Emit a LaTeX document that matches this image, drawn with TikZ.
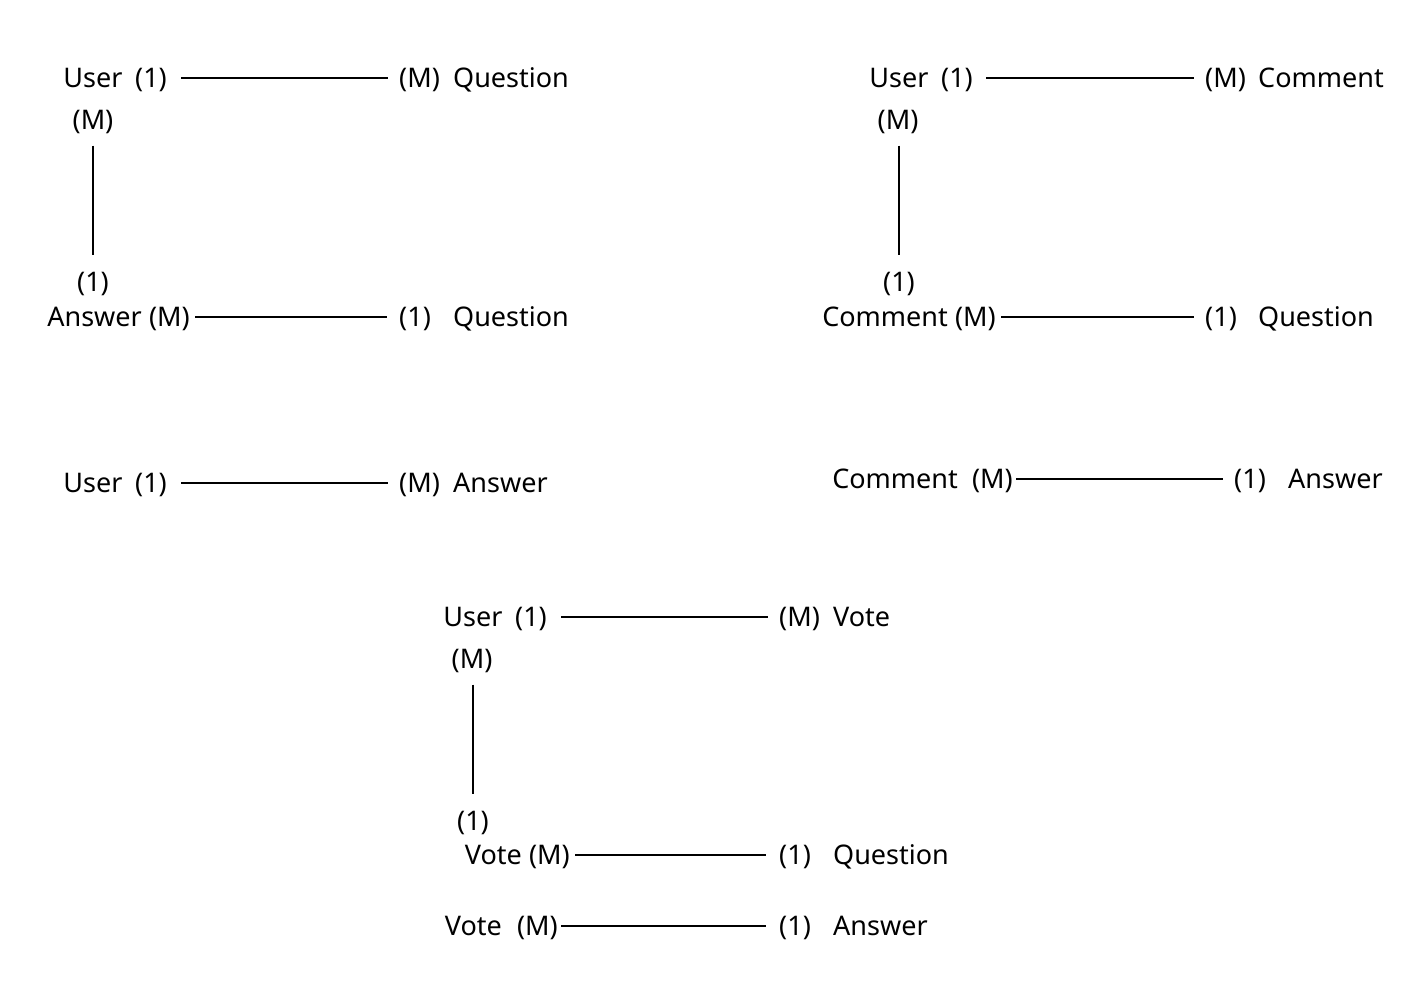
\documentclass[tikz,border=0pt]{standalone}
\usepackage{fontspec}
\setmainfont{Noto Sans}
\begin{document}
\begin{tikzpicture}[x=1pt,y=-1pt,
  lbl/.style={inner sep=0pt,text height=19pt,text depth=0pt,font=\fontsize{27}{32}\selectfont},
  conn/.style={line width=1.2pt}]
\useasboundingbox (0,0) rectangle (1426,1004);
% ---------- top-left ----------
\node[lbl] (u1) at (93,78) {User};
\node[lbl,anchor=east] (u1o) at (167,78) {(1)};
\node[lbl,anchor=west] (q1m) at (399,78) {(M)};
\node[lbl,anchor=west] (q1) at (453,78) {Question};
\draw[conn] ([xshift=14pt]u1o.east) -- ([xshift=-11pt]q1m.west);
\node[lbl] (u1m) at (93,120) {(M)};
\node[lbl] (a1o) at (93,282) {(1)};
\draw[conn] ([yshift=-16pt]a1o.north |- u1m.south) -- ([yshift=17pt]a1o.north);
\node[lbl,anchor=east] (a1) at (142,317) {Answer};
\node[lbl,anchor=east] (a1m) at (190,317) {(M)};
\node[lbl,anchor=west] (q2o) at (399,317) {(1)};
\node[lbl,anchor=west] (q2) at (453,317) {Question};
\draw[conn] ([xshift=5pt]a1m.east) -- ([xshift=-12pt]q2o.west);
% ---------- top-right ----------
\node[lbl] (u2) at (899,78) {User};
\node[lbl,anchor=east] (u2o) at (973,78) {(1)};
\node[lbl,anchor=west] (c1m) at (1205,78) {(M)};
\node[lbl,anchor=west] (c1) at (1258,78) {Comment};
\draw[conn] ([xshift=13pt]u2o.east) -- ([xshift=-11pt]c1m.west);
\node[lbl] (u2m) at (898,120) {(M)};
\node[lbl] (c2o) at (899,282) {(1)};
\draw[conn] ([yshift=-16pt]c2o.north |- u2m.south) -- ([yshift=17pt]c2o.north);
\node[lbl,anchor=east] (c2) at (948,317) {Comment};
\node[lbl,anchor=east] (c2m) at (996,317) {(M)};
\node[lbl,anchor=west] (q3o) at (1205,317) {(1)};
\node[lbl,anchor=west] (q3) at (1258,317) {Question};
\draw[conn] ([xshift=5pt]c2m.east) -- ([xshift=-11pt]q3o.west);
% ---------- middle-left ----------
\node[lbl] (u3) at (93,483) {User};
\node[lbl,anchor=east] (u3o) at (167,483) {(1)};
\node[lbl,anchor=west] (a2m) at (399,483) {(M)};
\node[lbl,anchor=west] (a2) at (453,483) {Answer};
\draw[conn] ([xshift=14pt]u3o.east) -- ([xshift=-11pt]a2m.west);
% ---------- middle-right ----------
\node[lbl,anchor=east] (c3) at (958,479) {Comment};
\node[lbl,anchor=east] (c3m) at (1013,479) {(M)};
\node[lbl,anchor=west] (a3o) at (1234,479) {(1)};
\node[lbl,anchor=west] (a3) at (1288,479) {Answer};
\draw[conn] ([xshift=3pt]c3m.east) -- ([xshift=-11pt]a3o.west);
% ---------- bottom ----------
\node[lbl] (u4) at (473,617) {User};
\node[lbl,anchor=east] (u4o) at (547,617) {(1)};
\node[lbl,anchor=west] (v1m) at (779,617) {(M)};
\node[lbl,anchor=west] (v1) at (833,617) {Vote};
\draw[conn] ([xshift=14pt]u4o.east) -- ([xshift=-11pt]v1m.west);
\node[lbl] (u4m) at (472,659) {(M)};
\node[lbl] (v2o) at (473,821) {(1)};
\draw[conn] ([yshift=-16pt]v2o.north |- u4m.south) -- ([yshift=17pt]v2o.north);
\node[lbl,anchor=east] (v2) at (522,855) {Vote};
\node[lbl,anchor=east] (v2m) at (570,855) {(M)};
\node[lbl,anchor=west] (q4o) at (779,855) {(1)};
\node[lbl,anchor=west] (q4) at (833,855) {Question};
\draw[conn] ([xshift=5pt]v2m.east) -- ([xshift=-13pt]q4o.west);
\node[lbl,anchor=east] (v3) at (502,926) {Vote};
\node[lbl,anchor=east] (v3m) at (558,926) {(M)};
\node[lbl,anchor=west] (a4o) at (779,926) {(1)};
\node[lbl,anchor=west] (a4) at (833,926) {Answer};
\draw[conn] ([xshift=3pt]v3m.east) -- ([xshift=-13pt]a4o.west);
\end{tikzpicture}
\end{document}
